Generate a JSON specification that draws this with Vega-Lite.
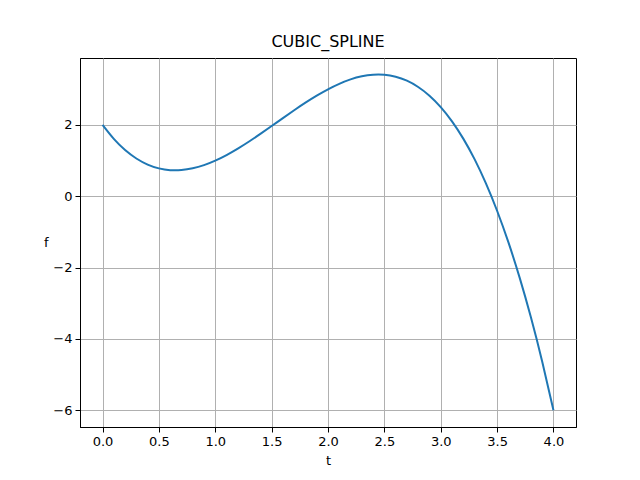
{
  "$schema": "https://vega.github.io/schema/vega-lite/v6.json",
  "width": 496,
  "height": 369,
  "autosize": {"type": "none"},
  "padding": {"left": 80, "top": 58, "right": 64, "bottom": 53},
  "background": "white",
  "title": {"text": "CUBIC_SPLINE", "font": "DejaVu Sans", "fontSize": 16, "fontWeight": "normal", "color": "black", "offset": 8},
  "config": {
    "view": {"stroke": "black", "strokeWidth": 1},
    "axis": {
      "labelFont": "DejaVu Sans", "labelFontSize": 13, "labelColor": "black",
      "titleFont": "DejaVu Sans", "titleFontSize": 13, "titleFontWeight": "normal", "titleColor": "black",
      "gridColor": "#b0b0b0", "gridWidth": 1, "gridOpacity": 1,
      "domainColor": "black", "tickColor": "black", "tickSize": 5, "labelPadding": 3
    }
  },
  "data": {"values": [
    {"t": 0.0, "f": 2.0},
    {"t": 0.1, "f": 1.60825},
    {"t": 0.2, "f": 1.296},
    {"t": 0.3, "f": 1.05775},
    {"t": 0.4, "f": 0.888},
    {"t": 0.5, "f": 0.78125},
    {"t": 0.6, "f": 0.732},
    {"t": 0.7, "f": 0.73475},
    {"t": 0.8, "f": 0.784},
    {"t": 0.9, "f": 0.87425},
    {"t": 1.0, "f": 1.0},
    {"t": 1.1, "f": 1.15575},
    {"t": 1.2, "f": 1.336},
    {"t": 1.3, "f": 1.53525},
    {"t": 1.4, "f": 1.748},
    {"t": 1.5, "f": 1.96875},
    {"t": 1.6, "f": 2.192},
    {"t": 1.7, "f": 2.41225},
    {"t": 1.8, "f": 2.624},
    {"t": 1.9, "f": 2.82175},
    {"t": 2.0, "f": 3.0},
    {"t": 2.1, "f": 3.15325},
    {"t": 2.2, "f": 3.276},
    {"t": 2.3, "f": 3.36275},
    {"t": 2.4, "f": 3.408},
    {"t": 2.5, "f": 3.40625},
    {"t": 2.6, "f": 3.352},
    {"t": 2.7, "f": 3.23975},
    {"t": 2.8, "f": 3.064},
    {"t": 2.9, "f": 2.81925},
    {"t": 3.0, "f": 2.5},
    {"t": 3.1, "f": 2.10075},
    {"t": 3.2, "f": 1.616},
    {"t": 3.3, "f": 1.04025},
    {"t": 3.4, "f": 0.368},
    {"t": 3.5, "f": -0.40625},
    {"t": 3.6, "f": -1.288},
    {"t": 3.7, "f": -2.28275},
    {"t": 3.8, "f": -3.396},
    {"t": 3.9, "f": -4.63325},
    {"t": 4.0, "f": -6.0}
  ]},
  "mark": {"type": "line", "color": "#1f77b4", "strokeWidth": 2, "interpolate": "natural"},
  "encoding": {
    "x": {
      "field": "t", "type": "quantitative",
      "scale": {"domain": [-0.2, 4.2], "nice": false, "zero": false},
      "axis": {"values": [0, 0.5, 1, 1.5, 2, 2.5, 3, 3.5, 4], "format": ".1f", "title": "t", "titlePadding": 6}
    },
    "y": {
      "field": "f", "type": "quantitative",
      "scale": {"domain": [-6.4703, 3.8766], "nice": false, "zero": false},
      "axis": {"values": [-6, -4, -2, 0, 2], "format": "d", "title": "f", "titleAngle": 0, "titleAlign": "right", "titleBaseline": "middle", "titleX": -32, "titleY": 184}
    }
  }
}
